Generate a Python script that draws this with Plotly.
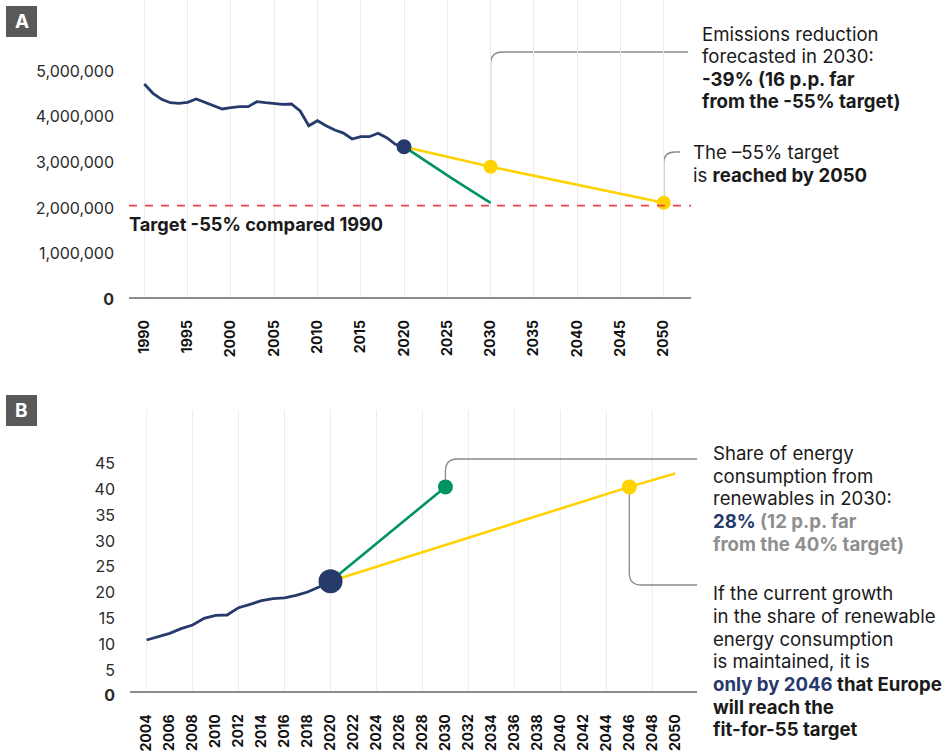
import plotly.graph_objects as go

# ---------------- DATA ----------------
# Panel A: emissions (historical 1990-2020)
years_a = list(range(1990, 2021))
emissions = [4.650e6, 4.446e6, 4.315e6, 4.241e6, 4.228e6, 4.249e6, 4.322e6, 4.249e6,
             4.190e6, 4.103e6, 4.131e6, 4.153e6, 4.153e6, 4.263e6, 4.241e6, 4.228e6,
             4.206e6, 4.212e6, 4.059e6, 3.737e6, 3.847e6, 3.737e6, 3.643e6, 3.575e6,
             3.446e6, 3.497e6, 3.497e6, 3.571e6, 3.475e6, 3.330e6, 3.278e6]
trend_years_a = [2020, 2030, 2050]
trend_vals_a = [3.278e6, 2.84e6, 2.05e6]
needed_years_a = [2020, 2025, 2030]
needed_vals_a = [3.278e6, 2.652e6, 2.05e6]
target_a = 1.99e6
xticks_a = list(range(1990, 2051, 5))
yticks_a = [0, 1e6, 2e6, 3e6, 4e6, 5e6]
yticktext_a = ["<b>0</b>", "1,000,000", "2,000,000", "3,000,000", "4,000,000", "5,000,000"]

# Panel B: renewable share (historical 2004-2020)
years_b = list(range(2004, 2021))
share = [9.83, 10.47, 11.12, 12.02, 12.73, 14.03, 14.61, 14.67, 16.09, 16.74,
         17.44, 17.83, 17.97, 18.49, 19.13, 20.10, 21.2]
needed_years_b = [2020, 2030]
needed_vals_b = [21.2, 39.5]
trend_years_b = [2020, 2046, 2050]
trend_vals_b = [21.2, 39.5, 42.1]
xticks_b = list(range(2004, 2051, 2))
xgrid_b = list(range(2004, 2049, 4))
yticks_b = list(range(0, 46, 5))
yticktext_b = ["<b>0</b>"] + [str(v) for v in yticks_b[1:]]

# ---------------- STYLE ----------------
W, H = 950, 755
NAVY = "#263a6b"
YELLOW = "#ffd200"
GREEN = "#00935f"
RED = "#e8434f"
GRID = "#ececec"
AXIS = "#8c8c8c"
CONN = "#8a8a8a"
FONT = "Inter"
TXT = "#1a1a1a"
BLUE_T = "#27396b"
GRAY_T = "#8f8f8f"

# layout geometry (pixels)
A_px = dict(x0=129, x1=691, y_top=0, y_bot=296.5)
B_px = dict(x0=130, x1=697, y_top=410, y_bot=690.7)
A_xr = [1988.23, 2053.15]
A_yr = [0, 296.5 / 45.7 * 1e6]
B_xr = [2002.55, 2051.89]
B_yr = [0, (690.7 - 410) / 5.16]


def px2paper(x, y):
    return x / W, 1 - y / H


def data2px(geom, xr, yr, xv, yv):
    px = geom["x0"] + (xv - xr[0]) / (xr[1] - xr[0]) * (geom["x1"] - geom["x0"])
    py = geom["y_bot"] - (yv - yr[0]) / (yr[1] - yr[0]) * (geom["y_bot"] - geom["y_top"])
    return px, py


def conn_path(x0, y0, ycorner, xend, r, up=True):
    yb = ycorner + r if up else ycorner - r
    p0 = px2paper(x0, y0)
    p1 = px2paper(x0, yb)
    pc = px2paper(x0, ycorner)
    p2 = px2paper(x0 + r, ycorner)
    p3 = px2paper(xend, ycorner)
    return (f"M {p0[0]:.5f},{p0[1]:.5f} L {p1[0]:.5f},{p1[1]:.5f} "
            f"Q {pc[0]:.5f},{pc[1]:.5f} {p2[0]:.5f},{p2[1]:.5f} L {p3[0]:.5f},{p3[1]:.5f}")


fig = go.Figure()

# ---- Panel A traces ----
fig.add_trace(go.Scatter(x=needed_years_a, y=needed_vals_a, mode="lines", line=dict(color=GREEN, width=2.6, shape="spline"),
                         xaxis="x", yaxis="y", hoverinfo="skip"))
fig.add_trace(go.Scatter(x=trend_years_a, y=trend_vals_a, mode="lines", line=dict(color=YELLOW, width=2.6),
                         xaxis="x", yaxis="y", hoverinfo="skip"))
fig.add_trace(go.Scatter(x=years_a, y=emissions, mode="lines", line=dict(color=NAVY, width=2.8),
                         xaxis="x", yaxis="y", hoverinfo="skip"))
fig.add_trace(go.Scatter(x=trend_years_a[1:], y=trend_vals_a[1:], mode="markers", marker=dict(color=YELLOW, size=14),
                         xaxis="x", yaxis="y", hoverinfo="skip"))
fig.add_trace(go.Scatter(x=[years_a[-1]], y=[emissions[-1]], mode="markers", marker=dict(color=NAVY, size=15),
                         xaxis="x", yaxis="y", hoverinfo="skip"))

# ---- Panel B traces ----
fig.add_trace(go.Scatter(x=needed_years_b, y=needed_vals_b, mode="lines", line=dict(color=GREEN, width=2.6),
                         xaxis="x2", yaxis="y2", hoverinfo="skip"))
fig.add_trace(go.Scatter(x=trend_years_b, y=trend_vals_b, mode="lines", line=dict(color=YELLOW, width=2.6),
                         xaxis="x2", yaxis="y2", hoverinfo="skip"))
fig.add_trace(go.Scatter(x=years_b, y=share, mode="lines", line=dict(color=NAVY, width=2.8),
                         xaxis="x2", yaxis="y2", hoverinfo="skip"))
fig.add_trace(go.Scatter(x=[needed_years_b[-1]], y=[needed_vals_b[-1]], mode="markers", marker=dict(color=GREEN, size=15),
                         xaxis="x2", yaxis="y2", hoverinfo="skip"))
fig.add_trace(go.Scatter(x=[trend_years_b[1]], y=[trend_vals_b[1]], mode="markers", marker=dict(color=YELLOW, size=15),
                         xaxis="x2", yaxis="y2", hoverinfo="skip"))
fig.add_trace(go.Scatter(x=[years_b[-1]], y=[share[-1]], mode="markers", marker=dict(color=NAVY, size=24),
                         xaxis="x2", yaxis="y2", hoverinfo="skip"))

shapes = []
# panel B vertical gridlines (every 4 years)
for yr in xgrid_b:
    shapes.append(dict(type="line", xref="x2", yref="y2 domain", x0=yr, x1=yr, y0=0, y1=1,
                       line=dict(color=GRID, width=1), layer="below"))
# target dashed line
shapes.append(dict(type="line", xref="x domain", yref="y", x0=0, x1=1, y0=target_a, y1=target_a,
                   line=dict(color=RED, width=1.7, dash="8px,8px"), layer="above"))

# connectors
ax, ay = data2px(A_px, A_xr, A_yr, trend_years_a[1], trend_vals_a[1])
shapes.append(dict(type="path", xref="paper", yref="paper", path=conn_path(ax, ay, 52, 688, 12),
                   line=dict(color=CONN, width=1.3), layer="below"))
ax, ay = data2px(A_px, A_xr, A_yr, trend_years_a[2], trend_vals_a[2])
shapes.append(dict(type="path", xref="paper", yref="paper", path=conn_path(ax, ay, 152, 680, 11),
                   line=dict(color=CONN, width=1.3), layer="below"))
bx, by = data2px(B_px, B_xr, B_yr, needed_years_b[-1], needed_vals_b[-1])
shapes.append(dict(type="path", xref="paper", yref="paper", path=conn_path(bx, by, 459, 697, 12),
                   line=dict(color=CONN, width=1.3), layer="below"))
bx, by = data2px(B_px, B_xr, B_yr, trend_years_b[1], trend_vals_b[1])
shapes.append(dict(type="path", xref="paper", yref="paper", path=conn_path(bx, by, 585, 697, 12, up=False),
                   line=dict(color=CONN, width=1.3), layer="below"))

# panel letter boxes
for (x0, y0) in [(6, 6), (6, 395)]:
    p0 = px2paper(x0, y0)
    p1 = px2paper(x0 + 31, y0 + 31)
    shapes.append(dict(type="rect", xref="paper", yref="paper", x0=p0[0], x1=p1[0], y0=p1[1], y1=p0[1],
                       fillcolor="#595959", line=dict(width=0), layer="above"))

annotations = []
for letter, (x0, y0) in [("A", (6, 6)), ("B", (6, 395))]:
    cx, cy = px2paper(x0 + 15.5, y0 + 15.5)
    annotations.append(dict(text=f"<b>{letter}</b>", x=cx, y=cy, xref="paper", yref="paper",
                            xanchor="center", yanchor="middle", showarrow=False,
                            font=dict(family=FONT, size=19, color="white")))


def add_lines(lines, xpx, first_center, step, size=18.6):
    for i, line in enumerate(lines):
        x, y = px2paper(xpx, first_center + i * step)
        annotations.append(dict(text=line, x=x, y=y, xref="paper", yref="paper", xanchor="left",
                                yanchor="middle", align="left", showarrow=False,
                                font=dict(family=FONT, size=size, color=TXT)))


add_lines(["Emissions reduction", "forecasted in 2030:", "<b>-39% (16 p.p. far</b>",
           "<b>from the -55% target)</b>"], 700, 33.5, 22.5)
add_lines(["The –55% target", "is <b>reached by 2050</b>"], 691, 152, 22.5)
add_lines(["Share of energy", "consumption from", "renewables in 2030:",
           f"<b><span style='color:{BLUE_T}'>28%</span> <span style='color:{GRAY_T}'>(12 p.p. far</span></b>",
           f"<b><span style='color:{GRAY_T}'>from the 40% target)</span></b>"], 711, 453, 22.65)
add_lines(["If the current growth", "in the share of renewable", "energy consumption",
           "is maintained, it is",
           f"<b><span style='color:{BLUE_T}'>only by 2046</span> that Europe</b>",
           "<b>will reach the</b>", "<b>fit-for-55 target</b>"], 711, 593.3, 22.65)
add_lines(["<b>Target -55% compared 1990</b>"], 127, 224.5, 0, size=18.2)

fig.update_layout(
    width=W, height=H, autosize=False,
    margin=dict(l=0, r=0, t=0, b=0, autoexpand=False),
    paper_bgcolor="white", plot_bgcolor="white",
    showlegend=False,
    font=dict(family=FONT, color="#333"),
    shapes=shapes, annotations=annotations,
    xaxis=dict(domain=[A_px["x0"] / W, A_px["x1"] / W], range=A_xr, anchor="y", automargin=False,
               tickmode="array", tickvals=xticks_a, tickangle=-90,
               tickfont=dict(family=FONT, size=14, color="#111", weight="bold"),
               showgrid=True, gridcolor=GRID, gridwidth=1, zeroline=False,
               showline=True, linecolor=AXIS, linewidth=2, ticks="", ticklabelstandoff=16),
    yaxis=dict(domain=[1 - A_px["y_bot"] / H, 1 - A_px["y_top"] / H], range=A_yr, anchor="x", automargin=False,
               tickmode="array", tickvals=yticks_a, ticktext=yticktext_a,
               tickfont=dict(family=FONT, size=16, color="#2a2a2a"),
               showgrid=False, zeroline=False, showline=False, ticks="", ticklabelstandoff=14,
               ticklabelshift=3),
    xaxis2=dict(domain=[B_px["x0"] / W, B_px["x1"] / W], range=B_xr, anchor="y2", automargin=False,
                tickmode="array", tickvals=xticks_b, tickangle=-90,
                tickfont=dict(family=FONT, size=14, color="#111", weight="bold"),
                showgrid=False, zeroline=False,
                showline=True, linecolor=AXIS, linewidth=2, ticks="", ticklabelstandoff=16),
    yaxis2=dict(domain=[1 - B_px["y_bot"] / H, 1 - B_px["y_top"] / H], range=B_yr, anchor="x2", automargin=False,
                tickmode="array", tickvals=yticks_b, ticktext=yticktext_b,
                tickfont=dict(family=FONT, size=16, color="#2a2a2a"),
                showgrid=False, zeroline=False, showline=False, ticks="", ticklabelstandoff=14,
                ticklabelshift=5),
)

page_fix = (
    "var d=document.documentElement,b=document.body;"
    "d.style.margin='0';d.style.padding='0';b.style.margin='0';b.style.padding='0';"
    "d.style.overflow='hidden';b.style.overflow='hidden';"
)
fig.write_html("out.html", config={"displayModeBar": False, "staticPlot": True}, post_script=page_fix)
